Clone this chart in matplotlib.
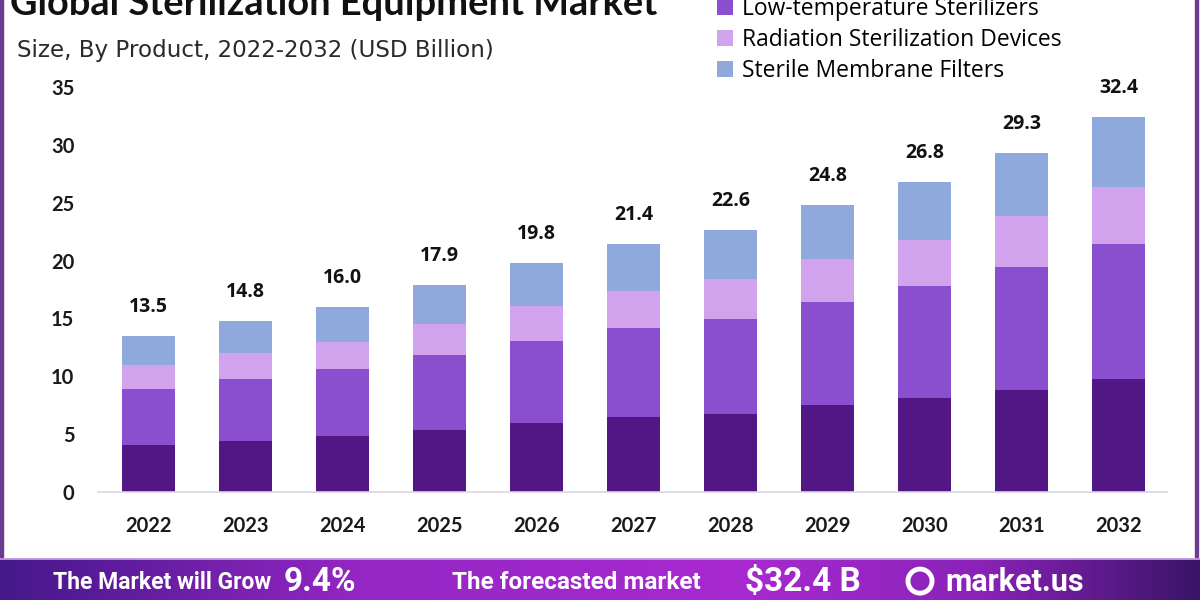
import matplotlib.pyplot as plt
import numpy as np
from matplotlib.patches import Patch, Rectangle
from matplotlib.colors import LinearSegmentedColormap

years = ['2022', '2023', '2024', '2025', '2026', '2027', '2028', '2029', '2030', '2031', '2032']
totals = [13.5, 14.8, 16.0, 17.9, 19.8, 21.4, 22.6, 24.8, 26.8, 29.3, 32.4]

# segment values (USD Billion)
heat = [4.09, 4.38, 4.84, 5.36, 5.94, 6.45, 6.77, 7.52, 8.10, 8.80, 9.80]
low_temp = [4.84, 5.36, 5.79, 6.48, 7.14, 7.75, 8.21, 8.93, 9.70, 10.62, 11.66]
radiation = [2.05, 2.25, 2.37, 2.66, 3.02, 3.17, 3.40, 3.65, 4.00, 4.43, 4.94]
membrane = [2.52, 2.81, 3.00, 3.40, 3.70, 4.03, 4.22, 4.70, 5.00, 5.45, 6.00]

series = ['Heat Sterilizers', 'Low-temperature Sterilizers',
          'Radiation Sterilization Devices', 'Sterile Membrane Filters']
colors = ['#521685', '#8a4fcf', '#d0a3ec', '#8fa9dc']

banner_items = ['The Market will Grow', '9.4%', 'The forecasted market', '$32.4 B', 'market.us']

fig = plt.figure(figsize=(12, 6), dpi=100)
fig.patch.set_facecolor('white')

ax = fig.add_axes([98 / 1200, 108 / 600, 1069 / 1200, 405 / 600])
x = np.arange(len(years))
bottom = np.zeros(len(years))
for vals, col in zip([heat, low_temp, radiation, membrane], colors):
    ax.bar(x, vals, bottom=bottom, width=0.555, color=col, zorder=2)
    bottom += np.array(vals)

for xi, t in zip(x, totals):
    ax.annotate(f'{t:.1f}', (xi, t), xytext=(0, 21), textcoords='offset points',
                ha='center', va='center', fontsize=14, fontweight='bold',
                family='Open Sans', color='#111111', annotation_clip=False)

ax.set_xlim(-0.52, 10.5)
ax.set_ylim(0, 35)
ax.set_yticks(range(0, 36, 5))
ax.set_xticks(x)
ax.set_xticklabels(years)
for s in ['top', 'right', 'left']:
    ax.spines[s].set_visible(False)
ax.spines['bottom'].set_color('#dcd6e4')
ax.spines['bottom'].set_linewidth(1.2)
ax.tick_params(axis='y', length=0, pad=17)
ax.tick_params(axis='x', length=0, pad=17)
for lab in ax.get_yticklabels() + ax.get_xticklabels():
    lab.set_family('Lato')
    lab.set_fontweight('bold')
    lab.set_fontsize(14.5)
    lab.set_color('#1a1a1a')

# title (cut off at the top in the reference) and subtitle
fig.text(10 / 1200, 1 - 15 / 600, 'Global Sterilization Equipment Market',
         ha='left', va='baseline', fontsize=27.4, fontweight='bold',
         family='Lato', color='#111111')
fig.text(17 / 1200, 1 - 51 / 600, 'Size, By Product, 2022-2032 (USD Billion)',
         ha='left', va='center', fontsize=16.6, family='DejaVu Sans', color='#2a2a2a')

handles = [Patch(facecolor=c, edgecolor='none') for c in colors]
fig.legend(handles, series, loc='upper left', bbox_to_anchor=(708 / 1200, 1 + 43.5 / 600),
           frameon=False, prop={'family': 'Open Sans', 'size': 16.5},
           handlelength=0.68, handleheight=0.68, handletextpad=0.4,
           labelspacing=0.315, borderaxespad=0)

# frame lines
fig.add_artist(Rectangle((0, 43 / 600), 2.5 / 1200, 1, transform=fig.transFigure,
                         color='#6b3a92', zorder=5))
fig.add_artist(Rectangle((1195 / 1200, 43 / 600), 2.5 / 1200, 1, transform=fig.transFigure,
                         color='#6b3a92', zorder=5))

# bottom banner
bax = fig.add_axes([0, 0, 1, 42 / 600])
cmap = LinearSegmentedColormap.from_list('banner', [
    (0.0, '#45188a'), (0.3, '#9526c4'), (0.62, '#a82ad0'),
    (0.82, '#8a22b8'), (1.0, '#3a1468')])
bax.imshow(np.linspace(0, 1, 400).reshape(1, -1), aspect='auto', cmap=cmap,
           extent=(0, 1, 0, 1))
bax.axhline(1, color='#c79be0', lw=2)
bax.set_xlim(0, 1)
bax.set_ylim(0, 1)
bax.axis('off')

banner_x = [53, 284, 452, 745, 945]
banner_fs = [16.5, 24, 17.5, 24, 22]
for px, txt, fs in zip(banner_x, banner_items, banner_fs):
    bax.text(px / 1200, 0.42, txt, ha='left', va='center', fontsize=fs,
             fontweight='bold', family='Roboto', color='white')
bax.scatter([920 / 1200], [0.45], s=300, facecolor='none', edgecolor='white', linewidth=3.5)

fig.savefig('out.png', dpi=100)
